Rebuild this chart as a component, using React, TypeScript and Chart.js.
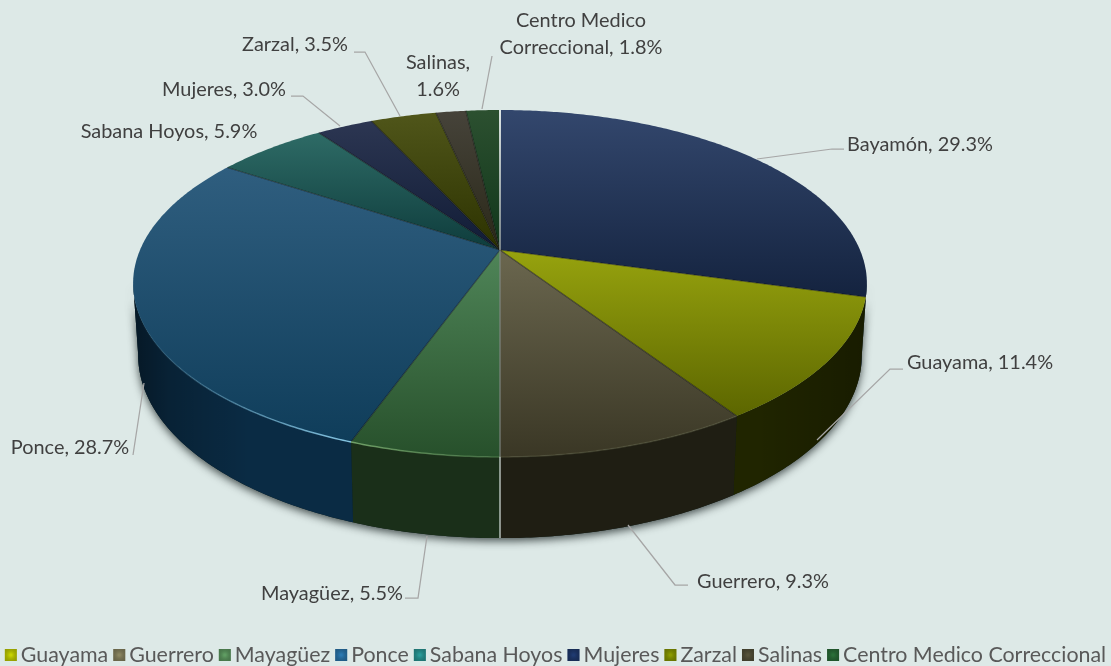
import React, { useEffect, useRef } from "react";
import { Chart, registerables } from "chart.js";

Chart.register(...registerables);

const categories = ["Bayamón", "Guayama", "Guerrero", "Mayagüez", "Ponce", "Sabana Hoyos", "Mujeres", "Zarzal", "Salinas", "Centro Medico Correccional"];
const shares = [29.3, 11.4, 9.3, 5.5, 28.7, 5.9, 3.0, 3.5, 1.6, 1.8];

const legendColors = ["#1f3864", "#c6d200", "#8a8560", "#5f9c62", "#2a78b0", "#2a9a98", "#1f3a70", "#8a9a00", "#55523a", "#2a6e38"];
const faceLight = ["#33476d", "#97a30e", "#6b674f", "#4f8558", "#2f5e7f", "#2e6b66", "#2c3652", "#50561a", "#46433a", "#2c5030"];
const faceDark = ["#14233f", "#5c6600", "#3a3725", "#27502b", "#0f3d5a", "#0e3c3c", "#111c36", "#2c3200", "#2a2818", "#10361a"];
const wallColors = ["#10203a", "#202500", "#1f1e13", "#1a2f19", "#0a2b44", "#0a2a2a", "#0e1628", "#1c2000", "#1c1b10", "#0c2412"];
const rimLeft = [null, null, "rgba(90,90,64,0.5)", "rgba(120,170,110,0.9)", "rgba(120,190,225,0)", null, null, null, null, null];
const rimRight = [null, null, "rgba(90,90,64,0.5)", "rgba(90,140,85,0.5)", "rgba(140,205,235,0.95)", null, null, null, null, null];

const labelLines = [
  ["Bayamón, 29.3%"], ["Guayama, 11.4%"], ["Guerrero, 9.3%"], ["Mayagüez, 5.5%"], ["Ponce, 28.7%"],
  ["Sabana Hoyos, 5.9%"], ["Mujeres, 3.0%"], ["Zarzal, 3.5%"], ["Salinas,", "1.6%"], ["Centro Medico", "Correccional, 1.8%"],
];
const labelAnchor = [
  [920, 145], [980, 363], [763, 582], [332, 594], [70, 448],
  [169, 132], [224, 90], [295, 45], [438, 63], [581, 21],
];
const leaders = [
  [[757, 159], [832, 149], [844, 149]],
  [[817, 440], [890, 369], [903, 369]],
  [[628, 525], [675, 585], [688, 585]],
  [[427, 536], [418, 598], [405, 598]],
  [[144, 383], [133, 455]],
  null,
  [[340, 126], [303, 96], [291, 96]],
  [[400, 116], [365, 52], [354, 52]],
  null,
  [[482, 109], [492, 56]],
];

const BG = "#dde9e7";
const TEXT = "#404040";
const FONT = "Lato";
const K = 0.193;
const TOP = { cx: 500, cy: 250, rx: 360, ry: 167 };
const BOTTOM = { cx: 500, cy: 320, rx: 355, ry: 176 };
const WALL_FROM = (11 * Math.PI) / 180;
const WALL_TO = (169 * Math.PI) / 180;

type Plane = { cx: number; cy: number; rx: number; ry: number };

function project(a: number, p: Plane): [number, number] {
  const w = 1 - K * Math.sin(a);
  return [p.cx + (p.rx * Math.cos(a)) / w, p.cy + (p.ry * Math.sin(a)) / w];
}

function curve(a0: number, a1: number, p: Plane): [number, number][] {
  const n = Math.max(2, Math.ceil(Math.abs(a1 - a0) / 0.01));
  const pts: [number, number][] = [];
  for (let i = 0; i <= n; i++) pts.push(project(a0 + ((a1 - a0) * i) / n, p));
  return pts;
}

function trace(ctx: CanvasRenderingContext2D, pts: [number, number][]) {
  ctx.beginPath();
  pts.forEach(([x, y], i) => (i ? ctx.lineTo(x, y) : ctx.moveTo(x, y)));
}

const pie3d = {
  id: "pie3d",
  beforeDraw(chart: any) {
    const { ctx, width, height } = chart;
    ctx.save();
    ctx.fillStyle = BG;
    ctx.fillRect(0, 0, width, height);
    ctx.restore();
  },
  beforeDatasetDraw(chart: any) {
    const ctx: CanvasRenderingContext2D = chart.ctx;
    const arcs = chart.getDatasetMeta(0).data as any[];
    ctx.save();

    // soft shadow under the solid
    ctx.save();
    ctx.shadowColor = "rgba(20,30,30,0.75)";
    ctx.shadowBlur = 9;
    ctx.shadowOffsetY = 3;
    ctx.shadowOffsetX = 0;
    ctx.fillStyle = "#10201c";
    trace(ctx, [...curve(WALL_FROM, WALL_TO, TOP), ...curve(WALL_TO, WALL_FROM, BOTTOM)]);
    ctx.closePath();
    ctx.fill();
    ctx.restore();

    // side walls
    const shade = ctx.createLinearGradient(132, 0, 866, 0);
    shade.addColorStop(0, "rgba(0,0,0,0.45)");
    shade.addColorStop(0.05, "rgba(0,0,0,0.22)");
    shade.addColorStop(0.16, "rgba(0,0,0,0)");
    shade.addColorStop(0.85, "rgba(0,0,0,0)");
    shade.addColorStop(1, "rgba(0,0,0,0.25)");
    arcs.forEach((el, i) => {
      const a0 = Math.max(el.startAngle, WALL_FROM);
      const a1 = Math.min(el.endAngle, WALL_TO);
      if (a1 <= a0) return;
      trace(ctx, [...curve(a0, a1, TOP), ...curve(a1, a0, BOTTOM)]);
      ctx.closePath();
      ctx.fillStyle = wallColors[i];
      ctx.fill();
      ctx.fillStyle = shade;
      ctx.fill();
    });

    // top faces
    arcs.forEach((el, i) => {
      const rim = curve(el.startAngle, el.endAngle, TOP);
      const ys = rim.map((p) => p[1]).concat(TOP.cy);
      const g = ctx.createLinearGradient(0, Math.min(...ys), 0, Math.max(...ys));
      g.addColorStop(0, faceLight[i]);
      g.addColorStop(1, faceDark[i]);
      trace(ctx, [[TOP.cx, TOP.cy], ...rim]);
      ctx.closePath();
      ctx.fillStyle = g;
      ctx.fill();
    });
    // dark creases between slices
    arcs.forEach((el) => {
      const [x, y] = project(el.startAngle, TOP);
      ctx.beginPath();
      ctx.moveTo(TOP.cx, TOP.cy);
      ctx.lineTo(x, y);
      ctx.strokeStyle = "rgba(0,0,0,0.45)";
      ctx.lineWidth = 1.2;
      ctx.stroke();
    });

    // bevel highlights along the front rim
    arcs.forEach((el, i) => {
      if (!rimLeft[i]) return;
      const pts = curve(Math.max(el.startAngle, WALL_FROM), Math.min(el.endAngle, WALL_TO), TOP);
      const xs = pts.map((p) => p[0]);
      const g = ctx.createLinearGradient(Math.min(...xs), 0, Math.max(...xs), 0);
      g.addColorStop(0, rimLeft[i] as string);
      g.addColorStop(1, rimRight[i] as string);
      trace(ctx, pts);
      ctx.strokeStyle = g;
      ctx.lineWidth = 1.5;
      ctx.stroke();
    });

    // pale seams where the first slice meets the last, and at the half-way cut
    arcs.forEach((el) => {
      const a = el.startAngle;
      if (Math.abs(a + Math.PI / 2) < 0.01) {
        const [x, y] = project(a, TOP);
        const g = ctx.createLinearGradient(0, y, 0, TOP.cy);
        g.addColorStop(0, "rgba(232,240,238,0.95)");
        g.addColorStop(1, "rgba(190,200,196,0.6)");
        ctx.beginPath();
        ctx.moveTo(x, y);
        ctx.lineTo(TOP.cx, TOP.cy);
        ctx.strokeStyle = g;
        ctx.lineWidth = 2;
        ctx.stroke();
      }
      if (Math.abs(a - Math.PI / 2) < 0.01) {
        const [x, y] = project(a, TOP);
        const [bx, by] = project(a, BOTTOM);
        ctx.beginPath();
        ctx.moveTo(TOP.cx, TOP.cy);
        ctx.lineTo(x, y);
        ctx.strokeStyle = "rgba(190,200,196,0.5)";
        ctx.lineWidth = 1.5;
        ctx.stroke();
        ctx.beginPath();
        ctx.moveTo(x, y);
        ctx.lineTo(bx, by);
        ctx.strokeStyle = "rgba(215,225,222,0.8)";
        ctx.stroke();
      }
    });

    ctx.restore();
    return false;
  },
  afterDraw(chart: any) {
    const ctx: CanvasRenderingContext2D = chart.ctx;
    ctx.save();

    // leader lines
    ctx.strokeStyle = "#a6a6a6";
    ctx.lineWidth = 1.25;
    leaders.forEach((pts) => {
      if (!pts) return;
      trace(ctx, pts as [number, number][]);
      ctx.stroke();
    });

    // data labels
    ctx.font = `19.9px ${FONT}`;
    ctx.fillStyle = TEXT;
    ctx.textBaseline = "middle";
    ctx.textAlign = "center";
    labelLines.forEach((lines, i) => {
      lines.forEach((line, j) => {
        ctx.fillText(line, labelAnchor[i][0], labelAnchor[i][1] + j * 27);
      });
    });

    // legend row
    const size = 12;
    const boxGap = 4;
    const itemGap = 5;
    const items = categories.slice(1);
    const colors = legendColors.slice(1);
    ctx.font = `21.4px ${FONT}`;
    ctx.textAlign = "left";
    const widths = items.map((t) => ctx.measureText(t).width);
    const total = widths.reduce((s, w) => s + w + size + boxGap, 0) + itemGap * (items.length - 1);
    let x = (chart.width - total) / 2;
    const y = 655;
    items.forEach((t, i) => {
      const g = ctx.createRadialGradient(x + size / 2, y, 1, x + size / 2, y, size * 0.75);
      g.addColorStop(0, colors[i]);
      g.addColorStop(1, "rgba(0,0,0,0.45)");
      ctx.fillStyle = colors[i];
      ctx.fillRect(x, y - size / 2, size, size);
      ctx.fillStyle = g;
      ctx.globalAlpha = 0.55;
      ctx.fillRect(x, y - size / 2, size, size);
      ctx.globalAlpha = 1;
      ctx.fillStyle = "#595959";
      ctx.fillText(t, x + size + boxGap, y);
      x += size + boxGap + widths[i] + itemGap;
    });
    ctx.restore();
  },
};

export default function App() {
  const ref = useRef<HTMLCanvasElement>(null);
  useEffect(() => {
    document.body.style.margin = "0";
    document.body.style.background = BG;
    const chart = new Chart(ref.current as HTMLCanvasElement, {
      type: "pie",
      data: {
        labels: categories,
        datasets: [{ data: shares, backgroundColor: legendColors, borderWidth: 0 }],
      },
      options: {
        responsive: false,
        animation: false,
        layout: { padding: 0 },
        plugins: { legend: { display: false }, tooltip: { enabled: false }, title: { display: false } },
      },
      plugins: [pie3d as any],
    });
    return () => chart.destroy();
  }, []);
  return <canvas ref={ref} width={1111} height={666} style={{ display: "block" }} />;
}
